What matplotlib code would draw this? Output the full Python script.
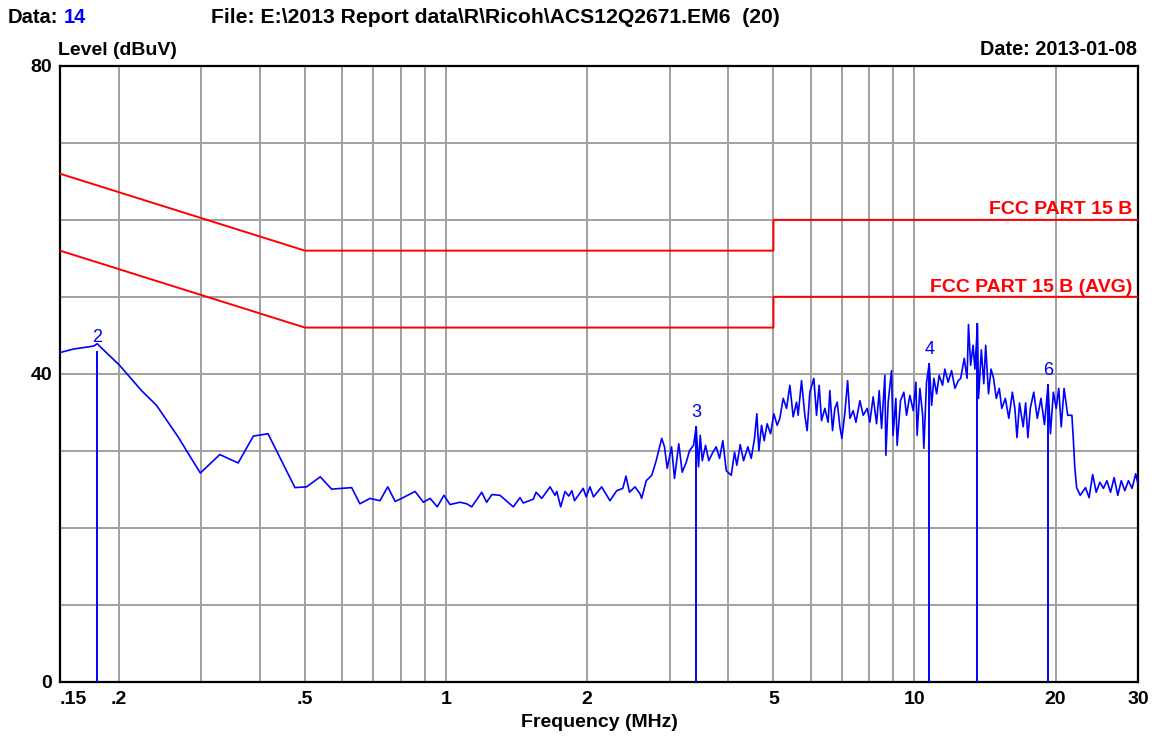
import matplotlib
matplotlib.use("Agg")
import matplotlib.pyplot as plt
from matplotlib.ticker import FixedLocator, NullFormatter

plt.rcParams['font.family'] = ['Liberation Sans', 'DejaVu Sans']

# Measured conducted emission trace (peak detector)
freq_mhz = [
    0.151, 0.160, 0.168, 0.177, 0.180, 0.201, 0.224, 0.241, 0.268, 0.282,
    0.299, 0.329, 0.360, 0.388, 0.417, 0.476, 0.504, 0.539, 0.570, 0.629,
    0.655, 0.688, 0.723, 0.751, 0.779, 0.804, 0.859, 0.895, 0.925, 0.958,
    0.990, 1.020, 1.071, 1.107, 1.135, 1.192, 1.221, 1.253, 1.304, 1.392,
    1.439, 1.462, 1.536, 1.557, 1.601, 1.668, 1.709, 1.724, 1.757, 1.795,
    1.829, 1.856, 1.881, 1.963, 1.992, 2.029, 2.065, 2.149, 2.239, 2.314,
    2.385, 2.422, 2.464, 2.532, 2.595, 2.616, 2.676, 2.749, 2.810, 2.887,
    2.927, 2.966, 3.030, 3.075, 3.140, 3.193, 3.257, 3.310, 3.376, 3.420,
    3.460, 3.489, 3.524, 3.581, 3.639, 3.712, 3.774, 3.836, 3.899, 3.965,
    4.063, 4.130, 4.177, 4.247, 4.317, 4.409, 4.483, 4.556, 4.608, 4.654,
    4.716, 4.777, 4.847, 4.929, 5.010, 5.092, 5.160, 5.245, 5.333, 5.420,
    5.509, 5.601, 5.645, 5.740, 5.834, 5.900, 5.980, 6.098, 6.179, 6.259,
    6.333, 6.437, 6.542, 6.597, 6.685, 6.761, 6.840, 6.931, 7.000, 7.104,
    7.199, 7.281, 7.400, 7.499, 7.648, 7.772, 7.926, 8.031, 8.162, 8.301,
    8.407, 8.507, 8.646, 8.688, 8.787, 8.933, 9.000, 9.125, 9.183, 9.338,
    9.491, 9.617, 9.774, 9.940, 10.07, 10.13, 10.27, 10.41, 10.47, 10.61,
    10.75, 10.88, 11.00, 11.15, 11.29, 11.48, 11.61, 11.80, 12.00, 12.20,
    12.40, 12.55, 12.77, 12.95, 13.04, 13.18, 13.34, 13.46, 13.63, 13.70,
    13.89, 14.06, 14.19, 14.39, 14.57, 14.75, 14.95, 15.17, 15.36, 15.63,
    15.90, 16.18, 16.38, 16.55, 16.76, 17.06, 17.27, 17.46, 17.67, 17.97,
    18.29, 18.62, 18.94, 19.28, 19.51, 19.79, 20.07, 20.32, 20.57, 20.86,
    21.24, 21.68, 21.84, 21.99, 22.19, 22.58, 23.18, 23.59, 24.01, 24.43,
    24.87, 25.31, 25.75, 26.21, 26.68, 27.16, 27.63, 28.12, 28.62, 29.14,
    29.66, 29.93,
]
level_dbuv = [
    42.8, 43.2, 43.4, 43.6, 43.9, 41.1, 37.8, 35.9, 31.8, 29.6,
    27.1, 29.5, 28.4, 31.9, 32.2, 25.2, 25.3, 26.6, 25.0, 25.2,
    23.1, 23.8, 23.5, 25.3, 23.4, 23.8, 24.7, 23.3, 23.8, 22.7,
    24.2, 23.0, 23.3, 23.1, 22.7, 24.6, 23.3, 24.3, 24.2, 22.7,
    23.9, 23.2, 23.7, 24.6, 23.8, 25.3, 24.2, 24.7, 22.7, 24.7,
    24.1, 24.8, 23.5, 25.1, 24.0, 25.3, 24.0, 25.3, 23.5, 24.8,
    25.1, 26.7, 24.6, 25.3, 24.4, 23.8, 26.1, 26.8, 28.7, 31.6,
    30.5, 27.7, 30.5, 26.4, 30.9, 27.2, 28.5, 30.0, 30.7, 33.1,
    27.9, 32.0, 28.7, 30.7, 28.7, 29.8, 30.5, 29.0, 31.3, 27.4,
    26.8, 29.8, 28.1, 30.8, 28.7, 30.5, 29.0, 31.6, 34.8, 30.0,
    33.3, 31.3, 33.5, 32.2, 34.8, 33.3, 34.2, 36.8, 35.5, 38.5,
    34.4, 36.3, 34.6, 39.1, 34.6, 32.6, 37.6, 39.4, 34.6, 38.5,
    33.9, 35.5, 33.7, 37.8, 32.6, 35.5, 36.3, 33.1, 31.6, 35.0,
    39.1, 34.2, 35.2, 33.7, 36.5, 34.6, 35.5, 33.7, 37.0, 33.5,
    37.8, 32.9, 39.8, 29.4, 36.3, 40.4, 32.0, 36.8, 30.7, 36.5,
    37.6, 34.6, 37.2, 35.2, 38.9, 32.0, 38.1, 34.6, 30.3, 38.9,
    41.3, 35.9, 39.4, 37.4, 39.8, 38.5, 40.6, 38.9, 40.4, 38.1,
    39.1, 39.4, 42.0, 39.4, 46.4, 41.1, 43.7, 40.6, 46.5, 36.8,
    43.1, 38.7, 43.7, 37.4, 40.6, 39.4, 36.8, 38.1, 35.5, 36.8,
    34.2, 37.6, 35.5, 31.7, 36.2, 33.1, 36.2, 31.7, 35.5, 37.6,
    34.2, 36.8, 33.4, 38.5, 32.2, 37.6, 35.5, 38.1, 33.1, 38.1,
    34.6, 34.6, 31.3, 27.8, 25.2, 24.2, 25.2, 23.9, 26.9, 24.6,
    25.9, 25.1, 26.1, 24.6, 26.5, 24.2, 26.1, 24.8, 26.1, 25.1,
    27.0, 25.9,
]

# FCC Part 15 B conducted limits
limit_freq = [0.15, 0.5, 5.0, 5.0, 30.0]
limit_qp_level = [66, 56, 56, 60, 60]
limit_avg_level = [56, 46, 46, 50, 50]
limit_qp_name = "FCC PART 15 B"
limit_avg_name = "FCC PART 15 B (AVG)"

# Marker readings
marker_freq = [0.180, 3.42, 10.75, 13.63, 19.28]
marker_level = [42.8, 33.1, 41.3, 46.5, 38.5]
marker_text = ["2", "3", "4", "", "6"]

x_major = [0.15, 0.2, 0.5, 1, 2, 5, 10, 20, 30]
x_major_labels = [".15", ".2", ".5", "1", "2", "5", "10", "20", "30"]
x_minor = [0.3, 0.4, 0.6, 0.7, 0.8, 0.9, 3, 4, 6, 7, 8, 9]
y_major = [0, 40, 80]
y_minor = [10, 20, 30, 50, 60, 70]

W, H = 1161, 738
fig = plt.figure(figsize=(W / 100, H / 100), dpi=100)
ax = fig.add_axes([60 / W, 1 - 681.5 / H, 1078 / W, 615.5 / H])

grid_kw = dict(color="#a0a0a0", linewidth=1.4)
ax.set_xscale("log")
ax.set_xlim(0.15, 30)
ax.set_ylim(0, 80)
ax.xaxis.set_major_locator(FixedLocator(x_major))
ax.xaxis.set_minor_locator(FixedLocator(x_minor))
ax.xaxis.set_minor_formatter(NullFormatter())
ax.set_xticklabels(x_major_labels)
ax.yaxis.set_major_locator(FixedLocator(y_major))
ax.yaxis.set_minor_locator(FixedLocator(y_minor))
ax.yaxis.set_minor_formatter(NullFormatter())
ax.grid(True, which="both", **grid_kw)
ax.set_axisbelow(True)
ax.tick_params(which="both", length=0)
ax.tick_params(axis="x", pad=6.5, labelsize=14)
ax.tick_params(axis="y", pad=5.8, labelsize=14)
for lab in ax.get_xticklabels() + ax.get_yticklabels():
    lab.set_fontweight("bold")
ax.get_xticklabels()[0].set_horizontalalignment("left")
for sp in ax.spines.values():
    sp.set_linewidth(1.6)
    sp.set_color("black")

# Limit lines
ax.plot(limit_freq, limit_qp_level, color="#ff0000", linewidth=1.4, zorder=3)
ax.plot(limit_freq, limit_avg_level, color="#ff0000", linewidth=1.4, zorder=3)
tr = ax.get_yaxis_transform()
ax.text(0.9944, limit_qp_level[-1] + 0.8, limit_qp_name, transform=tr,
        ha="right", va="baseline", color="#ff0000", fontsize=14, fontweight="bold")
ax.text(0.9944, limit_avg_level[-1] + 0.6, limit_avg_name, transform=tr,
        ha="right", va="baseline", color="#ff0000", fontsize=14, fontweight="bold")

# Emission trace
ax.plot(freq_mhz, level_dbuv, color="#0000ff", linewidth=1.2, zorder=4)

# Markers
for f, lv, t in zip(marker_freq, marker_level, marker_text):
    ax.plot([f, f], [0, lv], color="#0000ff", linewidth=1.4, zorder=4)
    if t:
        ax.text(f, lv + 1.9, t, ha="center", va="center", color="#0000ff",
                fontsize=13, zorder=5)

# Header texts
def fx(px):
    return px / W

def fy(py):
    return 1 - py / H

fig.text(fx(8), fy(22.7), "Data:", ha="left", va="baseline", fontsize=14.5, fontweight="bold")
fig.text(fx(64), fy(22.7), "14", ha="left", va="baseline", fontsize=14.5,
         fontweight="bold", color="#0000ff")
fig.text(fx(211), fy(22.7), "File: E:\\2013 Report data\\R\\Ricoh\\ACS12Q2671.EM6  (20)",
         ha="left", va="baseline", fontsize=15.2, fontweight="bold")
fig.text(fx(58), fy(55), "Level (dBuV)", ha="left", va="baseline", fontsize=14, fontweight="bold")
fig.text(fx(1137), fy(55), "Date: 2013-01-08", ha="right", va="baseline", fontsize=14.3,
         fontweight="bold")
fig.text(fx(599), fy(727), "Frequency (MHz)", ha="center", va="baseline", fontsize=14,
         fontweight="bold")

fig.savefig("out.png", dpi=100, facecolor="white")
